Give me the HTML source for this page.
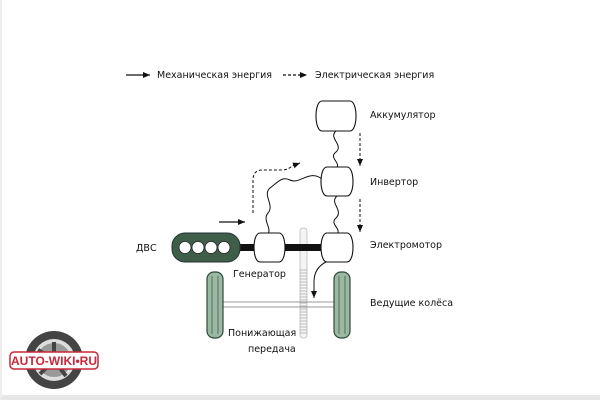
<!DOCTYPE html>
<html><head><meta charset="utf-8"><style>
html,body{margin:0;padding:0;background:#fff}
svg{display:block}
text{font-family:"DejaVu Sans","Liberation Sans",sans-serif;font-size:9.5px;fill:#111}
</style></head><body>
<svg width="600" height="400" viewBox="0 0 600 400" xmlns="http://www.w3.org/2000/svg">
<defs>
<marker id="ah" markerWidth="8" markerHeight="8" refX="7" refY="4" orient="auto" markerUnits="userSpaceOnUse"><path d="M0,1 L7,4 L0,7z" fill="#111"/></marker>
</defs>
<rect x="0" y="0" width="600" height="400" fill="#fff"/>
<rect x="0" y="395" width="600" height="5" fill="#e6e6e6"/>
<rect x="0" y="0" width="2" height="400" fill="#eee"/>
<!-- legend -->
<line x1="126" y1="75" x2="150" y2="75" stroke="#111" stroke-width="1.2" marker-end="url(#ah)"/>
<text x="157" y="78">Механическая энергия</text>
<line x1="283" y1="75" x2="307" y2="75" stroke="#111" stroke-width="1.2" stroke-dasharray="3,2" marker-end="url(#ah)"/>
<text x="315" y="78">Электрическая энергия</text>
<!-- gear strip -->
<rect x="300" y="228" width="7" height="110" rx="3" fill="#f4f4f4" stroke="#bbb" stroke-width="0.8"/>
<g stroke="#888" stroke-width="0.6">
<path d="M300,270h7M300,273h7M300,276h7M300,279h7M300,282h7M300,285h7M300,288h7M300,291h7M300,294h7M300,297h7M300,300h7M300,303h7M300,306h7M300,309h7M300,312h7M300,315h7M300,318h7M300,321h7M300,324h7M300,327h7M300,330h7M300,333h7"/>
</g>
<!-- axle -->
<line x1="222" y1="302" x2="334" y2="302" stroke="#999" stroke-width="1"/>
<line x1="222" y1="307" x2="334" y2="307" stroke="#999" stroke-width="1"/>
<!-- wheels -->
<g stroke="#2f4a38" stroke-width="1.2" fill="#9ab8a2">
<rect x="207" y="272" width="16" height="66" rx="7"/>
<rect x="334" y="272" width="16" height="66" rx="7"/>
</g>
<g stroke="#3f5e4a" stroke-width="0.8">
<line x1="212" y1="276" x2="212" y2="334"/><line x1="218" y1="276" x2="218" y2="334"/>
<line x1="339" y1="276" x2="339" y2="334"/><line x1="345" y1="276" x2="345" y2="334"/>
</g>
<!-- shafts -->
<rect x="238" y="244" width="86" height="7" fill="#111"/>
<!-- wires -->
<g fill="none" stroke="#111" stroke-width="1">
<path d="M336,131 C328,138 344,145 336,152 C328,158 342,163 336,168"/>
<path d="M337,196 C329,203 344,210 336,218 C329,224 342,229 337,234"/>
<path d="M323,180 C310,168 300,185 290,180 C282,176 278,182 270,188 C262,195 275,205 268,213 C262,220 272,228 268,234"/>
</g>
<!-- ICE -->
<rect x="172" y="233" width="68" height="29" rx="13" fill="#3f5e4a" stroke="#233" stroke-width="1"/>
<g fill="#fff" stroke="#222" stroke-width="0.8">
<circle cx="185" cy="247.5" r="6"/><circle cx="198" cy="247.5" r="6"/><circle cx="211" cy="247.5" r="6"/><circle cx="224" cy="247.5" r="6"/>
</g>
<!-- boxes -->
<g fill="#fff" stroke="#111" stroke-width="1.1">
<path d="M322,101 H350 C358,101 358,131 350,131 H322 C314,131 314,101 322,101z"/>
<path d="M327,167 H347 C355,167 355,196 347,196 H327 C319,196 319,167 327,167z"/>
<path d="M327,233 H347 C355,233 355,262 347,262 H327 C319,262 319,233 327,233z"/>
<path d="M260,233 H279 C287,233 287,262 279,262 H260 C252,262 252,233 260,233z"/>
</g>
<!-- arrows -->
<line x1="219" y1="222" x2="245" y2="222" stroke="#111" stroke-width="1.2" marker-end="url(#ah)"/>
<path d="M253,213 V180 Q253,170 263,170 H282 Q288,170 292,166 L300,163" fill="none" stroke="#111" stroke-width="1" stroke-dasharray="3,2" marker-end="url(#ah)"/>
<line x1="360" y1="133" x2="360" y2="166" stroke="#111" stroke-width="1" stroke-dasharray="3,2" marker-end="url(#ah)"/>
<line x1="360" y1="199" x2="360" y2="232" stroke="#111" stroke-width="1" stroke-dasharray="3,2" marker-end="url(#ah)"/>
<path d="M326,262 Q314,268 314,282 V298" fill="none" stroke="#111" stroke-width="1" marker-end="url(#ah)"/>
<!-- labels -->
<text x="370" y="118">Аккумулятор</text>
<text x="370" y="185">Инвертор</text>
<text x="370" y="248">Электромотор</text>
<text x="370" y="306">Ведущие колёса</text>
<text x="233" y="277">Генератор</text>
<text x="136" y="251">ДВС</text>
<text x="228" y="336">Понижающая</text>
<text x="248" y="352">передача</text>
<!-- logo -->
<circle cx="54" cy="360" r="29" fill="#444"/>
<circle cx="54" cy="360" r="21" fill="#ddd"/>
<circle cx="54" cy="360" r="17" fill="#999"/>
<g stroke="#444" stroke-width="4">
<line x1="54" y1="360" x2="54" y2="342"/><line x1="54" y1="360" x2="70" y2="368"/><line x1="54" y1="360" x2="40" y2="374"/><line x1="54" y1="360" x2="66" y2="376"/><line x1="54" y1="360" x2="38" y2="350"/>
</g>
<rect x="10" y="352" width="88" height="17" rx="4" fill="#fff" stroke="#c8283a" stroke-width="1.5"/>
<text x="54" y="365" text-anchor="middle" style="font-family:'Liberation Sans',sans-serif;font-size:12px;font-weight:bold;fill:#c8283a">AUTO-WIKI•RU</text>
</svg>
</body></html>
